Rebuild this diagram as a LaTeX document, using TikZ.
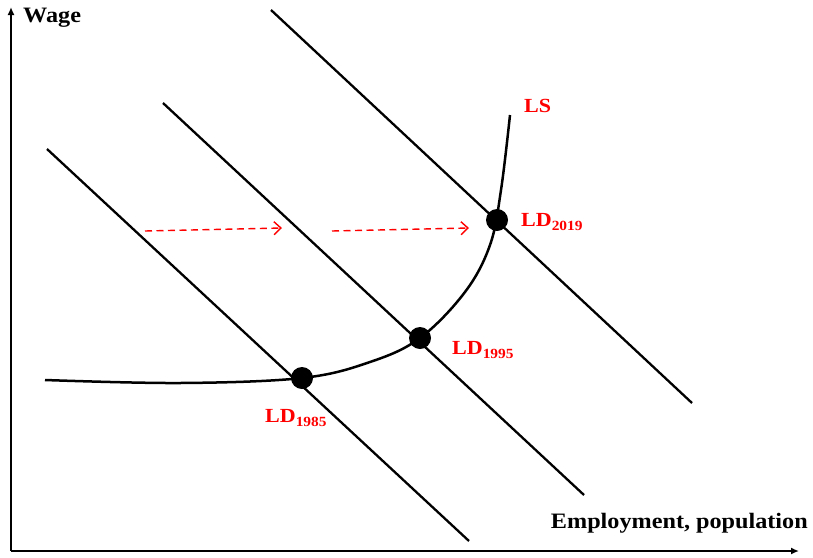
\documentclass[tikz,border=0pt]{standalone}
\usepackage{fontspec}
\setmainfont{Liberation Serif}
\newfontfamily\widefont[FakeStretch=1.1]{Liberation Serif}
\usetikzlibrary{arrows.meta}
\begin{document}
\begin{tikzpicture}[x=1pt,y=-1pt,
  ldline/.style={line width=2.3pt, black},
  axisline/.style={line width=1.8pt, black, -{Latex[length=8pt,width=7pt]}},
  dot/.style={circle, fill=black, inner sep=0pt, minimum size=22pt},
  redlab/.style={text=red, font=\widefont\bfseries\fontsize{20}{22}\selectfont, inner sep=0pt, anchor=west},
  axlab/.style={text=black, font=\widefont\bfseries\fontsize{22}{24}\selectfont, inner sep=0pt},
  shiftarrow/.style={red, line width=1.4pt, dash pattern=on 7pt off 4.5pt, -{Straight Barb[length=7pt,width=13pt,line width=1.4pt]}}
]
\useasboundingbox (0,0) rectangle (813,557);
% axes
\coordinate (O) at (11,551);
\coordinate (ytop) at (11,7);
\coordinate (xend) at (799,551);
\draw[axisline] (O) -- (ytop);
\draw[axisline] (O) -- (xend);
\node[axlab, anchor=west] (wage) at (23,18) {Wage};
\node[axlab, anchor=east] (emp) at (808,523) {Employment, population};
% labor demand lines
\coordinate (a1) at (47,149); \coordinate (b1) at (469,541);
\coordinate (a2) at (163,103); \coordinate (b2) at (584,495);
\coordinate (a3) at (271,10);  \coordinate (b3) at (692,403);
\draw[ldline] (a1) -- (b1);
\draw[ldline] (a2) -- (b2);
\draw[ldline] (a3) -- (b3);
% labor supply curve
\draw[ldline, line width=2.5pt] plot[smooth, tension=0.6] coordinates {(45,380) (180,383) (302,378) (370,362) (420,338) (465,292) (490,245) (501,190) (510,115)};
% equilibrium points
\node[dot] (p1) at (302,378) {};
\node[dot] (p2) at (420,338) {};
\node[dot] (p3) at (497,220) {};
% labels
\node[redlab] (ls) at (524,106) {LS};
\node[redlab] (l3) at (521,222) {LD\textsubscript{2019}};
\node[redlab] (l2) at (452,350) {LD\textsubscript{1995}};
\node[redlab] (l1) at (265,418) {LD\textsubscript{1985}};
% shift arrows
\coordinate (s1) at (145,231); \coordinate (e1) at (282,228);
\coordinate (s2) at (332,231); \coordinate (e2) at (469,228);
\draw[shiftarrow] (s1) -- (e1);
\draw[shiftarrow] (s2) -- (e2);
\end{tikzpicture}
\end{document}
